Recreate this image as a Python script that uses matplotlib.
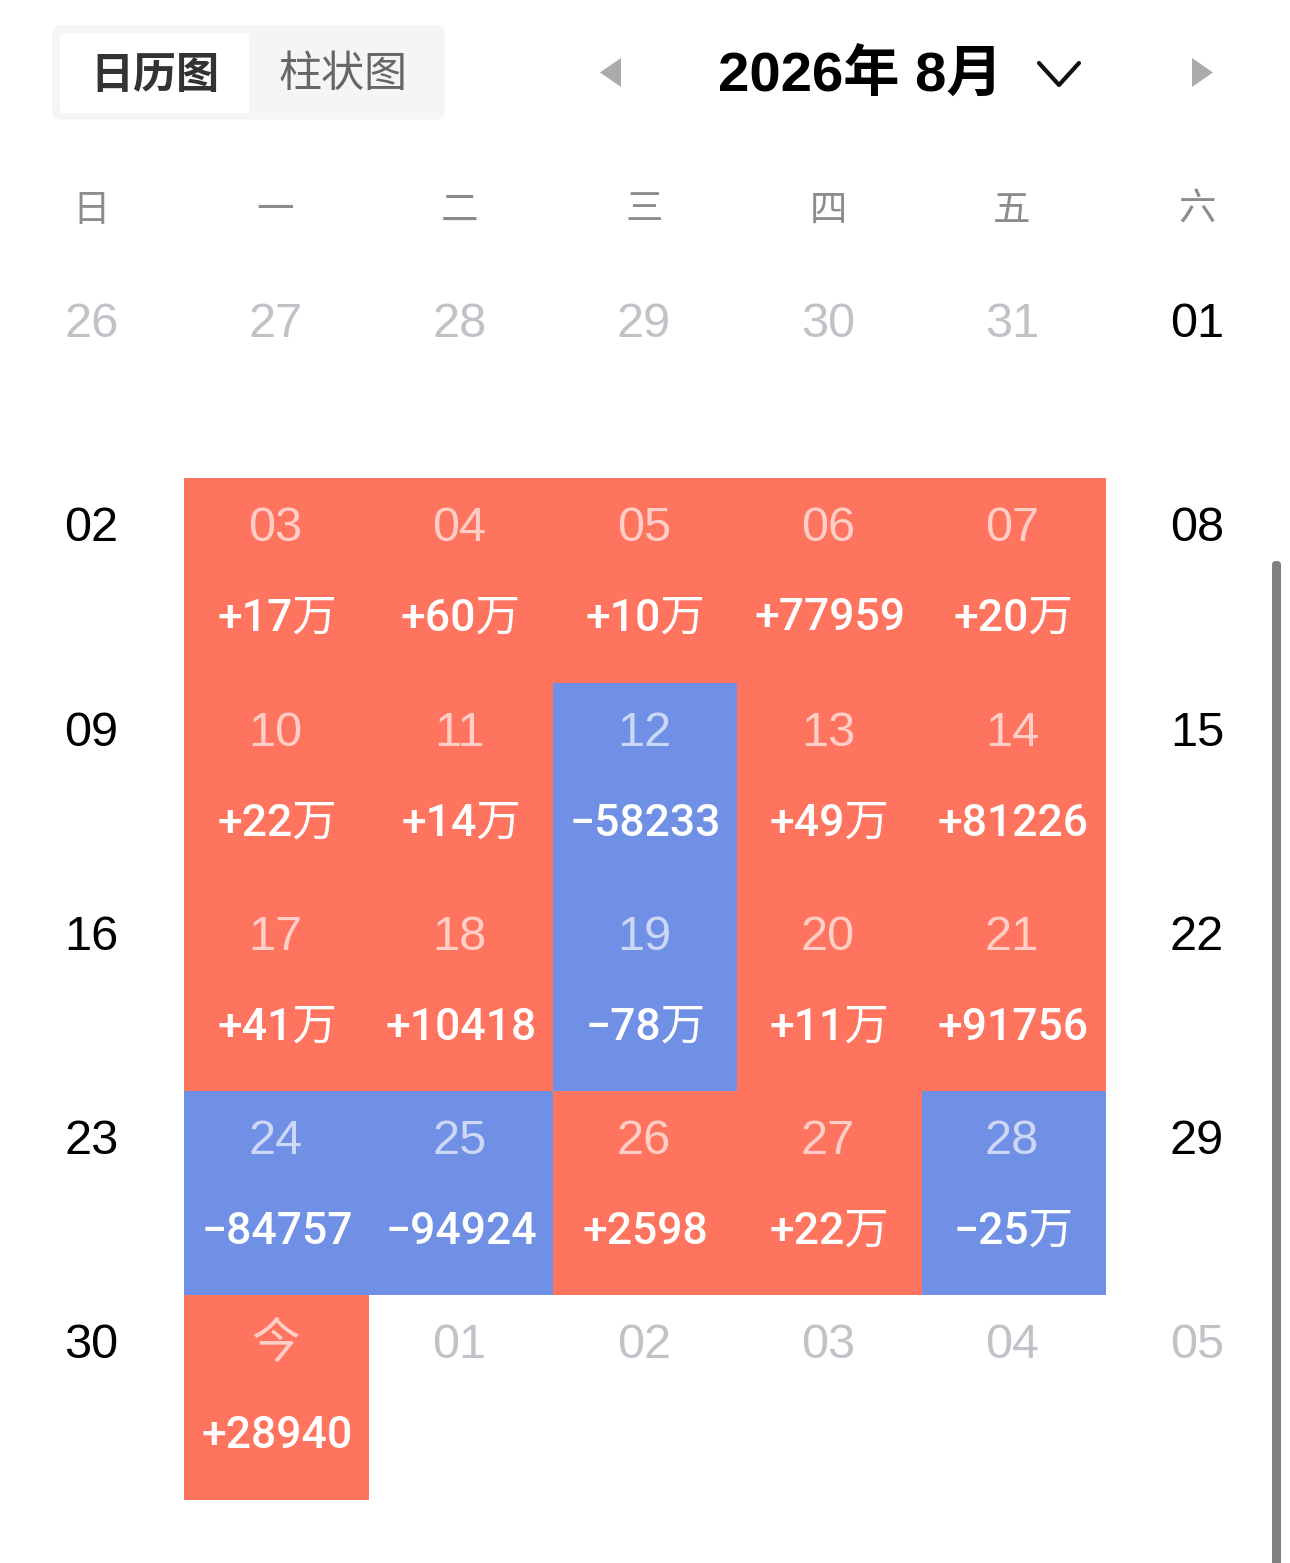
# -*- coding: utf-8 -*-
# calendar chart of daily change, Aug 2026
import matplotlib
matplotlib.use('Agg')
import matplotlib.pyplot as plt
from matplotlib.patches import Rectangle, FancyBboxPatch, Polygon

weekdays = ['日', '一', '二', '三', '四', '五', '六']

# one row per week, sunday first
week_days = [
    ['26', '27', '28', '29', '30', '31', '01'],
    ['02', '03', '04', '05', '06', '07', '08'],
    ['09', '10', '11', '12', '13', '14', '15'],
    ['16', '17', '18', '19', '20', '21', '22'],
    ['23', '24', '25', '26', '27', '28', '29'],
    ['30', '今', '01', '02', '03', '04', '05'],
]
week_values = [
    ['', '', '', '', '', '', ''],
    ['', '+17万', '+60万', '+10万', '+77959', '+20万', ''],
    ['', '+22万', '+14万', '−58233', '+49万', '+81226', ''],
    ['', '+41万', '+10418', '−78万', '+11万', '+91756', ''],
    ['', '−84757', '−94924', '+2598', '+22万', '−25万', ''],
    ['', '+28940', '', '', '', '', ''],
]
# cells of other months are greyed out
other_month = [
    [1, 1, 1, 1, 1, 1, 0],
    [0, 0, 0, 0, 0, 0, 0],
    [0, 0, 0, 0, 0, 0, 0],
    [0, 0, 0, 0, 0, 0, 0],
    [0, 0, 0, 0, 0, 0, 0],
    [0, 0, 1, 1, 1, 1, 1],
]

col_x = [91.5, 275.5, 459.5, 644, 828, 1012, 1197]
col_edges = [0, 184, 369, 553, 737, 922, 1106, 1290]
row_top = [274, 478, 683, 887, 1091, 1295]
row_h = [204, 205, 204, 204, 204, 205]

RED = '#FF745F'
BLUE = '#7090E5'
GREY = '#C1C1C7'

FONT = ['Liberation Sans', 'Noto Sans CJK SC']
VALFONT = ['Roboto', 'Noto Sans CJK SC']
CJK = ['Noto Sans CJK SC', 'DejaVu Sans']

fig = plt.figure(figsize=(12.9, 15.63), dpi=100)
ax = fig.add_axes([0, 0, 1, 1])
ax.set_xlim(0, 1290)
ax.set_ylim(1563, 0)
ax.axis('off')

# toggle at top left
ax.add_patch(FancyBboxPatch((60, 33), 377, 79, boxstyle='round,pad=0,rounding_size=0',
                            fc='#F5F5F5', ec='#F5F5F5', lw=11, joinstyle='round', zorder=1))
ax.add_patch(FancyBboxPatch((64, 37), 181, 72, boxstyle='round,pad=0,rounding_size=0',
                            fc='white', ec='white', lw=6, joinstyle='round', zorder=2))
ax.text(155, 75, '日历图', family=CJK, fontsize=31, weight='bold', color='#333333',
        ha='center', va='center', zorder=3)
ax.text(343, 75, '柱状图', family=CJK, fontsize=31, color='#666666',
        ha='center', va='center', zorder=3)

# month selector
ax.add_patch(Polygon([[621, 58], [621, 87], [600, 72.5]], fc='#ABABAB', ec='none'))
ax.add_patch(Polygon([[1192, 58], [1192, 87], [1213, 72.5]], fc='#ABABAB', ec='none'))
ax.text(860.5, 77, '2026年 8月', family=['Liberation Sans', 'Noto Sans CJK SC'], fontsize=40.5,
        weight='bold', color='black', ha='center', va='center')
ax.plot([1039, 1059, 1079], [63, 85, 63], color='#111111', lw=3, solid_capstyle='round')

for i, w in enumerate(weekdays):
    ax.text(col_x[i], 210, w, family=CJK, fontsize=27, color='#8C8C8C', ha='center', va='center')

# colored cells first so the neighbours join up
for r in range(len(week_days)):
    for c in range(7):
        v = week_values[r][c]
        if v == '':
            continue
        col = BLUE if v[0] == '−' else RED
        ax.add_patch(Rectangle((col_edges[c], row_top[r]), col_edges[c + 1] - col_edges[c], row_h[r],
                               fc=col, ec='none', zorder=1))

for r in range(len(week_days)):
    y = row_top[r] + 50.5
    for c in range(7):
        d = week_days[r][c]
        v = week_values[r][c]
        if v != '':
            ax.text(col_x[c], y, d, family=FONT, fontsize=35, color='white', alpha=0.65,
                    ha='center', va='center', zorder=3)
            ax.text(col_x[c] + 1.5, y + 90, v, family=VALFONT, fontsize=32, weight='medium', color='white',
                    ha='center', va='center', zorder=3)
        else:
            ax.text(col_x[c], y, d, family=FONT, fontsize=35,
                    color=GREY if other_month[r][c] else 'black',
                    ha='center', va='center', zorder=3)

# scrollbar
ax.add_patch(FancyBboxPatch((1272, 561), 9, 1010, boxstyle='round,pad=0,rounding_size=4',
                            fc='#808080', ec='none', zorder=4))

fig.savefig('out.png', dpi=100, facecolor='white')
